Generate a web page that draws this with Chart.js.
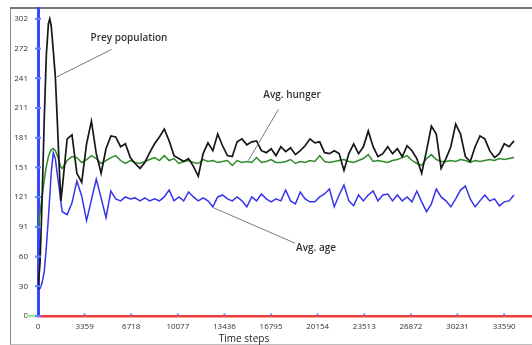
<!DOCTYPE html>
<html>
<head>
<meta charset="utf-8">
<script src="https://cdn.jsdelivr.net/npm/chart.js@4"></script>
<style>
    html, body { margin: 0; padding: 0; background: #fff; }
    #wrap { position: relative; width: 532px; height: 345px; overflow: hidden; }
    #frame {
        position: absolute; left: 10px; top: 7px; width: 530px; height: 335px;
        border-left: 1px solid #8a8a8a; border-top: 2px solid #777; border-bottom: 1px solid #bdbdbd;
    }
    #chart { position: absolute; left: 0; top: 0; }
</style>
</head>
<body>
<div id="wrap">
    <div id="frame"></div>
    <canvas id="chart" width="532" height="345"></canvas>
</div>
<script>
// sample times (dense at the start where the prey spike is)
const timeSteps = [0, 150, 300, 450, 600, 750, 850, 950, 1100, 1250, 1400, 1550, 1650, 1750,
    2100, 2450, 2800, 3150, 3500, 3850, 4200, 4550, 4900, 5250,
    5600, 5950, 6300, 6650, 7000, 7350, 7700, 8050, 8400, 8750,
    9100, 9450, 9800, 10150, 10500, 10850, 11200, 11550, 11900, 12250,
    12600, 12950, 13300, 13650, 14000, 14350, 14700, 15050, 15400, 15750,
    16100, 16450, 16800, 17150, 17500, 17850, 18200, 18550, 18900, 19250,
    19600, 19950, 20300, 20650, 21000, 21350, 21700, 22050, 22400, 22750,
    23100, 23450, 23800, 24150, 24500, 24850, 25200, 25550, 25900, 26250,
    26600, 26950, 27300, 27650, 28000, 28350, 28700, 29050, 29400, 29750,
    30100, 30450, 30800, 31150, 31500, 31850, 32200, 32550, 32900, 33250,
    33600, 33950, 34300];

const preyPopulation = [27, 55, 120, 200, 265, 297, 302, 295, 270, 243, 195, 145, 117, 130,
    180, 184, 145, 136, 175, 198, 165, 145, 170, 183,
    182, 172, 175, 161, 155, 150, 156, 166, 175, 182,
    190, 178, 163, 160, 157, 160, 152, 142, 165, 176,
    168, 185, 173, 163, 162, 177, 180, 174, 177, 178,
    168, 166, 170, 163, 172, 167, 171, 164, 168, 173,
    180, 176, 177, 166, 165, 168, 165, 148, 165, 175,
    165, 172, 188, 172, 162, 165, 172, 165, 170, 162,
    173, 168, 160, 145, 168, 193, 185, 150, 160, 172,
    195, 185, 162, 157, 172, 183, 180, 168, 161, 165,
    175, 172, 178];

const avgHunger = [90, 105, 122, 138, 152, 162, 166, 169, 170, 168, 163, 156, 151, 150,
    158, 162, 161, 156, 159, 163, 160, 155, 158, 161,
    163, 158, 155, 158, 156, 155, 157, 159, 161, 158,
    163, 158, 160, 155, 157, 158, 156, 155, 159, 157,
    158, 156, 157, 158, 153, 158, 156, 157, 156, 161,
    156, 157, 159, 156, 156, 157, 159, 155, 157, 156,
    158, 157, 163, 157, 156, 157, 158, 159, 157, 156,
    158, 160, 164, 157, 158, 157, 156, 158, 159, 161,
    163, 158, 155, 153, 160, 164, 159, 157, 157, 158,
    157, 159, 158, 156, 158, 157, 158, 159, 158, 160,
    159, 160, 161];

const avgAge = [27, 28, 34, 45, 70, 100, 122, 145, 166, 160, 143, 128, 115, 106,
    103, 115, 137, 122, 97, 118, 139, 120, 100, 127,
    119, 117, 121, 119, 120, 117, 120, 117, 119, 117,
    121, 128, 117, 121, 117, 126, 121, 117, 120, 117,
    111, 121, 123, 119, 117, 121, 117, 111, 121, 117,
    124, 119, 116, 119, 117, 128, 117, 114, 126, 119,
    116, 116, 121, 124, 129, 111, 123, 133, 117, 112,
    123, 117, 123, 127, 117, 123, 124, 117, 123, 117,
    121, 116, 127, 116, 106, 114, 129, 121, 117, 111,
    119, 128, 132, 119, 111, 117, 123, 117, 119, 112,
    116, 117, 123];

const xTicks = [0, 3359, 6718, 10077, 13436, 16795, 20154, 23513, 26872, 30231, 33590];
const yTicks = [0, 30.2, 60.4, 90.6, 120.8, 151, 181.2, 211.4, 241.6, 271.8, 302];
const yTickLabels = ['0', '30', '60', '91', '121', '151', '181', '211', '241', '272', '302'];

const toPoints = arr => arr.map((v, i) => ({ x: timeSteps[i], y: v }));

// leader-line labels, anchored in data units
const notes = [
    { text: 'Prey population', at: [6560, 282], from: [5310, 271], to: [1350, 243] },
    { text: 'Avg. hunger', at: [18310, 224], from: [17330, 210], to: [15160, 158] },
    { text: 'Avg. age', at: [20040, 69], from: [18530, 74], to: [12640, 110] }
];

const extras = {
    id: 'extras',
    afterDatasetsDraw(chart) {
        const { ctx, scales: { x, y } } = chart;
        ctx.save();
        // light green stub left of origin
        ctx.strokeStyle = '#9be89b';
        ctx.lineWidth = 2.5;
        ctx.beginPath();
        ctx.moveTo(27, y.getPixelForValue(0));
        ctx.lineTo(x.left - 1, y.getPixelForValue(0));
        ctx.stroke();

        // tick dots on the axes
        ctx.fillStyle = '#5a86ff';
        x.ticks.forEach(t => {
            if (t.value === 0) return;
            ctx.fillRect(x.getPixelForValue(t.value) - 1, y.bottom - 2.5, 2, 2);
        });
        y.ticks.forEach(t => {
            ctx.fillRect(x.left - 3, y.getPixelForValue(t.value) - 1, 6, 2);
        });

        notes.forEach(n => {
            ctx.strokeStyle = '#7a7a7a';
            ctx.lineWidth = 1;
            ctx.beginPath();
            ctx.moveTo(x.getPixelForValue(n.from[0]), y.getPixelForValue(n.from[1]));
            ctx.lineTo(x.getPixelForValue(n.to[0]), y.getPixelForValue(n.to[1]));
            ctx.stroke();
            ctx.fillStyle = '#333';
            ctx.font = '600 10px "Open Sans"';
            ctx.textAlign = 'center';
            ctx.textBaseline = 'middle';
            ctx.fillText(n.text, x.getPixelForValue(n.at[0]), y.getPixelForValue(n.at[1]));
        });

        ctx.fillStyle = '#222';
        ctx.font = '10px "Open Sans"';
        ctx.textAlign = 'center';
        ctx.textBaseline = 'middle';
        ctx.fillText('Time steps', 244, 339);
        ctx.restore();
    }
};

const lineStyle = { borderWidth: 1.5, pointRadius: 0, tension: 0, fill: false };

new Chart(document.getElementById('chart'), {
    type: 'line',
    data: {
        datasets: [
            { label: 'Prey population', data: toPoints(preyPopulation), borderColor: '#161616', ...lineStyle, borderWidth: 1.7 },
            { label: 'Avg. hunger', data: toPoints(avgHunger), borderColor: '#2f8a2a', ...lineStyle },
            { label: 'Avg. age', data: toPoints(avgAge), borderColor: '#3434ec', ...lineStyle }
        ]
    },
    options: {
        responsive: false,
        animation: false,
        layout: { padding: { top: 8, left: 0, right: 0, bottom: 0 } },
        plugins: { legend: { display: false }, tooltip: { enabled: false } },
        scales: {
            x: {
                type: 'linear',
                min: 0,
                max: 35600,
                afterFit: s => { s.height = 29; s.paddingLeft = 0; s.paddingRight = 0; },
                afterBuildTicks: s => { s.ticks = xTicks.map(v => ({ value: v })); },
                grid: { drawOnChartArea: false, color: 'rgba(0,0,0,0)', tickLength: 3 },
                border: { color: '#ee3c3c', width: 2.5 },
                ticks: {
                    autoSkip: false, maxRotation: 0, padding: 3,
                    color: '#333', font: { family: '"Open Sans"', size: 8 },
                    callback: v => String(v)
                }
            },
            y: {
                min: 0,
                max: 313,
                afterFit: s => { s.width = 38; s.paddingTop = 0; s.paddingBottom = 0; },
                afterBuildTicks: s => { s.ticks = yTicks.map(v => ({ value: v })); },
                grid: { drawOnChartArea: false, color: 'rgba(0,0,0,0)', tickLength: 2 },
                border: { color: '#3a46ff', width: 3 },
                ticks: {
                    padding: 8, color: '#333', font: { family: '"Open Sans"', size: 8 },
                    callback: (v, i) => yTickLabels[i]
                }
            }
        }
    },
    plugins: [extras]
});
</script>
</body>
</html>
